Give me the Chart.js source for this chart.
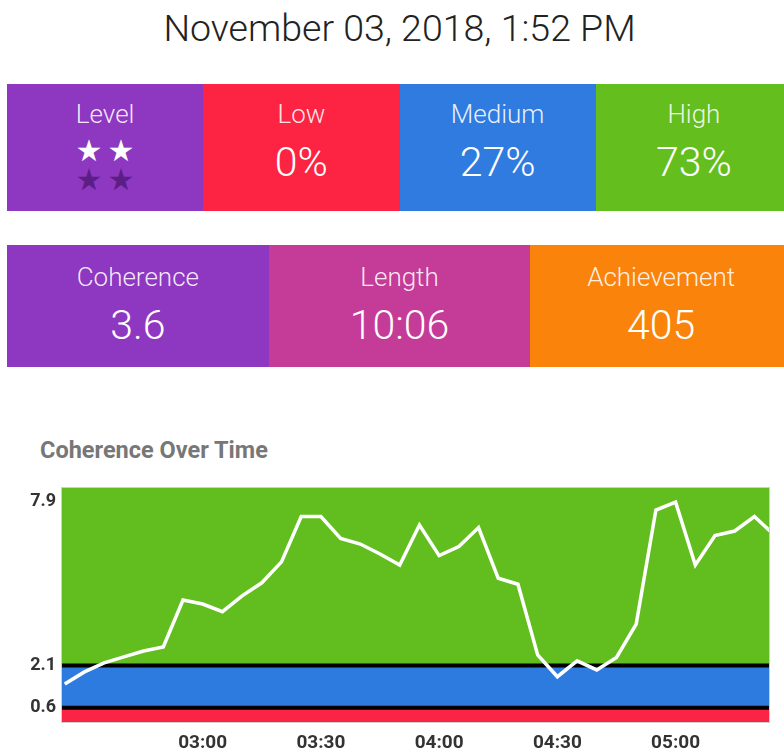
<!DOCTYPE html>
<html><head><meta charset="utf-8">
<script src="https://cdn.jsdelivr.net/npm/chart.js@4/dist/chart.umd.min.js"></script>
<style>
html,body{margin:0;padding:0;background:#fff;width:784px;height:756px;overflow:hidden;font-family:Roboto,"Noto Sans",sans-serif;}
#wrap{position:absolute;left:7px;top:0;width:785px;height:756px;}
.title{position:absolute;left:0;width:785px;top:6px;text-align:center;font-size:37.5px;font-weight:300;color:#222;line-height:44px;}
.row{position:absolute;left:0;width:785px;display:flex;}
.card{flex:1;position:relative;color:#fff;text-align:center;}
.lab{position:absolute;left:0;right:0;font-size:26px;font-weight:300;line-height:30px;color:rgba(255,255,255,0.9);}
.val{position:absolute;left:0;right:0;font-size:41px;font-weight:300;line-height:48px;}
.star{position:absolute;font-family:"DejaVu Sans";font-size:30px;line-height:32px;width:32px;text-align:center;}
#head{position:absolute;left:40px;top:436px;font-size:23.5px;font-weight:700;color:#777;line-height:28px;}
#box{position:absolute;left:0;top:470px;width:784px;height:286px;}
</style></head>
<body>
<div id="wrap">
  <div class="title">November 03, 2018, 1:52 PM</div>
  <div class="row" style="top:84px;height:127px;">
    <div class="card" style="background:#8E37C1;">
      <div class="lab" style="top:15px;">Level</div>
      <span class="star" style="left:66px;top:51px;color:#fff;">★</span>
      <span class="star" style="left:98px;top:51px;color:#fff;">★</span>
      <span class="star" style="left:66px;top:80px;color:#5B1E86;">★</span>
      <span class="star" style="left:98px;top:80px;color:#5B1E86;">★</span>
    </div>
    <div class="card" style="background:#FC2343;">
      <div class="lab" style="top:15px;">Low</div>
      <div class="val" style="top:54px;">0%</div>
    </div>
    <div class="card" style="background:#2F7BE0;">
      <div class="lab" style="top:15px;">Medium</div>
      <div class="val" style="top:54px;">27%</div>
    </div>
    <div class="card" style="background:#63BE1E;">
      <div class="lab" style="top:15px;">High</div>
      <div class="val" style="top:54px;">73%</div>
    </div>
  </div>
  <div class="row" style="top:245px;height:122px;">
    <div class="card" style="background:#8E38C2;">
      <div class="lab" style="top:17px;">Coherence</div>
      <div class="val" style="top:56px;">3.6</div>
    </div>
    <div class="card" style="background:#C43B98;">
      <div class="lab" style="top:17px;">Length</div>
      <div class="val" style="top:56px;">10:06</div>
    </div>
    <div class="card" style="background:#FA830B;">
      <div class="lab" style="top:17px;">Achievement</div>
      <div class="val" style="top:56px;">405</div>
    </div>
  </div>
</div>
<div id="head">Coherence Over Time</div>
<div id="box"><canvas id="c" width="784" height="286"></canvas></div>
<script>
const times = ['02:25','02:30','02:35','02:40','02:45','02:50','02:55',
  '03:00','03:05','03:10','03:15','03:20','03:25','03:30','03:35','03:40','03:45','03:50','03:55',
  '04:00','04:05','04:10','04:15','04:20','04:25','04:30','04:35','04:40','04:45','04:50','04:55',
  '05:00','05:05','05:10','05:15','05:20','05:25'];
const coherence = [1.44,1.87,2.19,2.40,2.61,2.75,4.41,4.27,4.00,4.56,5.02,5.76,7.36,7.36,6.59,6.39,6.04,5.65,7.06,5.98,6.30,6.97,5.18,4.97,2.47,1.70,2.26,1.94,2.38,3.56,7.59,7.87,5.65,6.69,6.85,7.36,6.71];
const yTicks = [0.6, 2.1, 7.9];
const xTickLabels = ['03:00','03:30','04:00','04:30','05:00'];
const thresholds = [0.6, 2.1];
const zoneColors = ['#FB2444','#2E7BDF','#62BE1E'];

const toMin = s => { const p = s.split(':'); return (+p[0])*60 + (+p[1]); };
const points = times.map((t,i) => ({x: toMin(t), y: coherence[i]}));
const xTickValues = xTickLabels.map(toMin);

const zones = {
  id:'zones',
  beforeDatasetsDraw(chart){
    const {ctx, chartArea:a, scales:{y}} = chart;
    const bounds = [y.min, ...thresholds, y.max];
    ctx.save();
    for (let i=0;i<zoneColors.length;i++){
      const top = y.getPixelForValue(bounds[i+1]);
      const bot = y.getPixelForValue(bounds[i]);
      ctx.fillStyle = zoneColors[i];
      ctx.fillRect(a.left, top, a.right-a.left, bot-top);
    }
    ctx.strokeStyle = '#000';
    ctx.lineWidth = 4;
    thresholds.forEach(v => {
      const py = y.getPixelForValue(v);
      ctx.beginPath(); ctx.moveTo(a.left, py); ctx.lineTo(a.right, py); ctx.stroke();
    });
    ctx.restore();
  },
  afterDraw(chart){
    const {ctx, chartArea:a} = chart;
    ctx.save();
    ctx.strokeStyle = '#cfcfcf';
    ctx.lineWidth = 1;
    ctx.strokeRect(a.left-0.5, a.top-0.5, a.right-a.left+1, a.bottom-a.top+1);
    ctx.restore();
  }
};

new Chart(document.getElementById('c'), {
  type:'line',
  data:{ datasets:[{ data: points, borderColor:'#fff', borderWidth:3.5, pointRadius:0, tension:0, fill:false }] },
  options:{
    responsive:false, animation:false,
    layout:{ padding:{ top:18, right:15, left:0, bottom:0 } },
    plugins:{ legend:{display:false}, tooltip:{enabled:false} },
    scales:{
      x:{ type:'linear', min:144.3, max:323.7,
        grid:{display:false, drawTicks:false}, border:{display:false},
        afterBuildTicks(s){ s.ticks = xTickValues.map(v => ({value:v})); },
        afterFit(s){ s.height = 34; },
        ticks:{ autoSkip:false, maxRotation:0, padding:10, color:'#333',
          font:{family:'Roboto', size:19, weight:'bold'},
          callback:(v) => xTickLabels[xTickValues.indexOf(v)] }
      },
      y:{ min:0.1, max:8.37,
        grid:{display:false, drawTicks:false}, border:{display:false},
        afterBuildTicks(s){ s.ticks = yTicks.map(v => ({value:v})); },
        afterFit(s){ s.width = 62; },
        ticks:{ padding:6, color:'#333', font:{family:'Roboto', size:18, weight:'bold'},
          callback:(v) => String(v) }
      }
    }
  },
  plugins:[zones]
});
</script>
</body></html>
